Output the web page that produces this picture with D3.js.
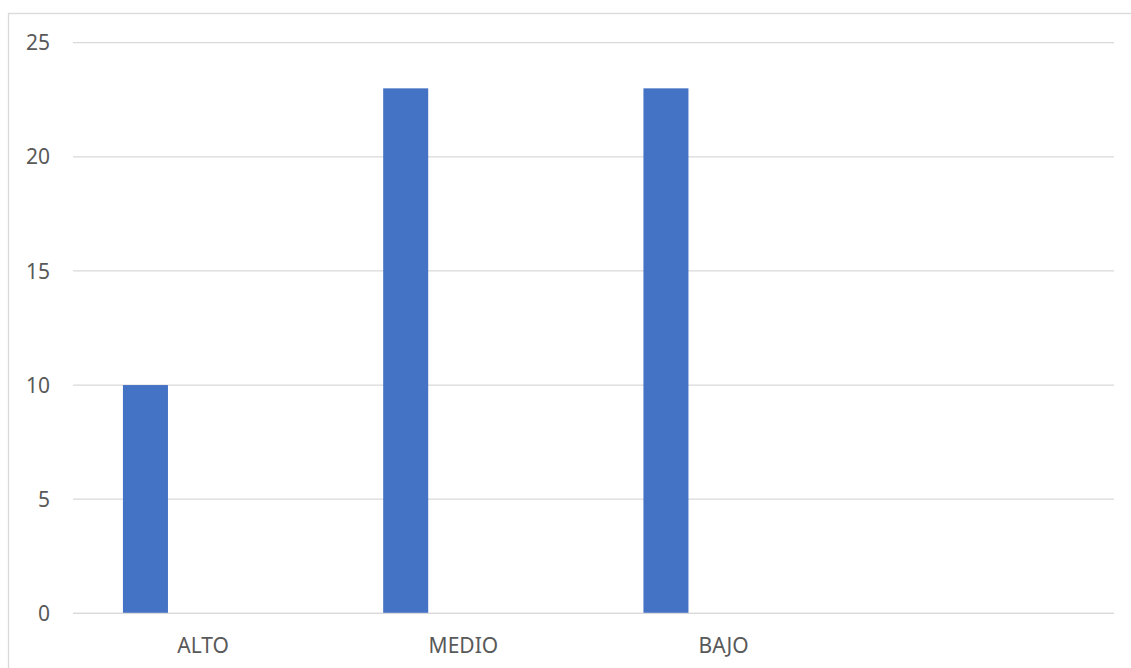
<!DOCTYPE html>
<html>
<head>
<meta charset="utf-8">
<script src="https://cdn.jsdelivr.net/npm/d3@7"></script>
<style>
  html, body { margin: 0; padding: 0; background: #fff; }
  svg { display: block; }
</style>
</head>
<body>
<svg id="chart" width="1131" height="668"></svg>
<script>
const categories = ["ALTO", "MEDIO", "BAJO", ""];
const values = [10, 23, 23, null];
const yTicks = [0, 5, 10, 15, 20, 25];

const svg = d3.select("#chart");
const W = 1131, H = 668;
const margin = { left: 73, right: 17, top: 42.7, bottom: 54.7 };

// chart area border
svg.append("rect")
  .attr("x", 8.5).attr("y", 13.5)
  .attr("width", W + 10).attr("height", H + 10)
  .attr("fill", "#fff")
  .attr("stroke", "#d9d9d9").attr("stroke-width", 1.3);

const x0 = d3.scaleBand()
  .domain(categories)
  .range([margin.left, W - margin.right])
  .paddingInner(0).paddingOuter(0);

const x1 = d3.scaleBand()
  .domain(["Serie1"])
  .range([0, x0.bandwidth()])
  .paddingInner(0).paddingOuter(2.39).align(0.232);

const y = d3.scaleLinear()
  .domain([0, 25])
  .range([H - margin.bottom, margin.top]);

// gridlines
svg.append("g")
  .selectAll("line")
  .data(yTicks)
  .join("line")
  .attr("x1", margin.left).attr("x2", W - margin.right)
  .attr("y1", d => y(d)).attr("y2", d => y(d))
  .attr("stroke", "#d9d9d9").attr("stroke-width", 1.3);

// y tick labels
svg.append("g")
  .selectAll("text")
  .data(yTicks)
  .join("text")
  .attr("x", 50)
  .attr("y", d => y(d))
  .attr("dy", "0.36em")
  .attr("text-anchor", "end")
  .attr("font-family", "'Noto Sans', sans-serif")
  .attr("font-size", 21)
  .attr("fill", "#595959")
  .text(d => d);

// bars
svg.append("g")
  .selectAll("rect")
  .data(categories.map((c, i) => ({ c, v: values[i] })).filter(d => d.v != null))
  .join("rect")
  .attr("x", d => x0(d.c) + x1("Serie1"))
  .attr("width", x1.bandwidth())
  .attr("y", d => y(d.v))
  .attr("height", d => y(0) - y(d.v))
  .attr("fill", "#4472C4");

// redraw zero line over bars
svg.append("line")
  .attr("x1", margin.left).attr("x2", W - margin.right)
  .attr("y1", y(0)).attr("y2", y(0))
  .attr("stroke", "#d9d9d9").attr("stroke-width", 1.3);

// x labels
svg.append("g")
  .selectAll("text")
  .data(categories)
  .join("text")
  .attr("x", d => x0(d) + x0.bandwidth() / 2)
  .attr("y", 652.5)
  .attr("text-anchor", "middle")
  .attr("font-family", "'Noto Sans', sans-serif")
  .attr("font-size", 21)
  .attr("fill", "#595959")
  .text(d => d);
</script>
</body>
</html>
